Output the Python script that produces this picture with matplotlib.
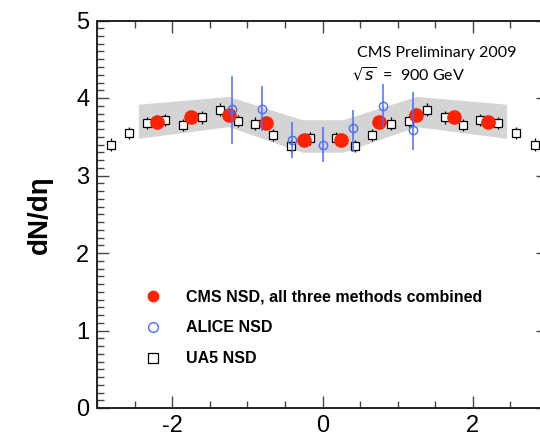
import matplotlib
matplotlib.use("Agg")
import matplotlib.pyplot as plt
from matplotlib.ticker import MultipleLocator

# CMS NSD, all three methods combined
cms_eta = [-2.2, -1.75, -1.25, -0.75, -0.25, 0.25, 0.75, 1.25, 1.75, 2.2]
cms_dndeta = [3.69, 3.76, 3.78, 3.68, 3.46, 3.46, 3.69, 3.78, 3.76, 3.69]

# CMS systematic band
band_eta = [-2.45, -1.25, -0.27, 0.27, 1.25, 2.45]
band_hi = [3.92, 4.02, 3.72, 3.72, 4.02, 3.92]
band_lo = [3.48, 3.63, 3.30, 3.30, 3.63, 3.48]

# ALICE NSD
alice_eta = [-1.2, -0.8, -0.4, 0.0, 0.4, 0.8, 1.2]
alice_dndeta = [3.86, 3.86, 3.46, 3.40, 3.61, 3.90, 3.59]
alice_err_lo = [0.45, 0.28, 0.23, 0.23, 0.31, 0.28, 0.26]
alice_err_hi = [0.43, 0.29, 0.23, 0.23, 0.24, 0.28, 0.49]

# UA5 NSD
ua5_eta = [-2.82, -2.57, -2.34, -2.09, -1.85, -1.60, -1.37, -1.13, -0.90, -0.66,
           -0.42, -0.17, 0.18, 0.43, 0.66, 0.91, 1.15, 1.39, 1.63, 1.87,
           2.10, 2.34, 2.57, 2.83]
ua5_dndeta = [3.40, 3.55, 3.68, 3.72, 3.65, 3.75, 3.85, 3.70, 3.67, 3.52,
              3.38, 3.48, 3.48, 3.38, 3.52, 3.67, 3.70, 3.85, 3.75, 3.65,
              3.72, 3.68, 3.55, 3.40]
ua5_err = [0.08] * len(ua5_eta)

plt.rcParams["font.family"] = ["Liberation Sans", "DejaVu Sans"]
plt.rcParams["axes.unicode_minus"] = False

fig = plt.figure(figsize=(5.4, 4.37), dpi=100)
ax = fig.add_axes([97 / 540, 29 / 437, 451 / 540, 387.5 / 437])

ax.fill_between(band_eta, band_lo, band_hi, color="#d4d4d4", lw=0, zorder=1)

ax.errorbar(ua5_eta, ua5_dndeta, yerr=ua5_err, fmt="none", ecolor="black",
            elinewidth=0.9, zorder=2)
ua5, = ax.plot(ua5_eta, ua5_dndeta, "s", ms=5.2, mfc="white", mec="black",
               mew=0.9, zorder=3, label="UA5 NSD")

cms, = ax.plot(cms_eta, cms_dndeta, "o", ms=9.5, color="#ff2200", mec="#ff2200",
               zorder=4, label="CMS NSD, all three methods combined")

ax.errorbar(alice_eta, alice_dndeta, yerr=[alice_err_lo, alice_err_hi],
            fmt="none", ecolor="#4a6cff", elinewidth=1.1, zorder=5)
alice, = ax.plot(alice_eta, alice_dndeta, "o", ms=6, mfc="none",
                 mec="#4a6cff", mew=1.0, zorder=6, label="ALICE NSD")

ax.set_xlim(-3, 3)
ax.set_ylim(0, 5)
ax.xaxis.set_major_locator(MultipleLocator(2))
ax.xaxis.set_minor_locator(MultipleLocator(0.5))
ax.yaxis.set_major_locator(MultipleLocator(1))
ax.yaxis.set_minor_locator(MultipleLocator(0.1))
ax.tick_params(which="both", direction="in", top=True, right=True,
               width=1.0, color="#444444")
ax.tick_params(which="major", length=8.6, labelsize=17)
ax.tick_params(which="minor", length=4.7)
ax.tick_params(axis="x", which="major", pad=5)
ax.tick_params(axis="y", which="major", pad=5.5)
for s in ax.spines.values():
    s.set_linewidth(1.4)
    s.set_color("#222222")

ax.set_ylabel("dN/dη", fontsize=20, fontweight="bold", labelpad=16.5)

ax.text(0.577, 0.917, "CMS Preliminary 2009", transform=ax.transAxes,
        fontsize=11.5, family="Lato", va="center", ha="left")
ax.text(0.565, 0.86, r"$\sqrt{s}$  =  900 GeV", transform=ax.transAxes,
        fontsize=11.5, family="Lato", va="center", ha="left")

leg = ax.legend(handles=[cms, alice, ua5], loc="upper left",
                bbox_to_anchor=(0.106, 0.306), frameon=False,
                prop={"weight": "bold", "size": 11.5}, handlelength=1.0,
                handletextpad=1.55, labelspacing=1.0, borderpad=0,
                borderaxespad=0)
for h, size in zip(leg.legend_handles, [7.5, 7.0, 7.0]):
    h.set_markersize(size)

fig.savefig("out.png", dpi=100)
